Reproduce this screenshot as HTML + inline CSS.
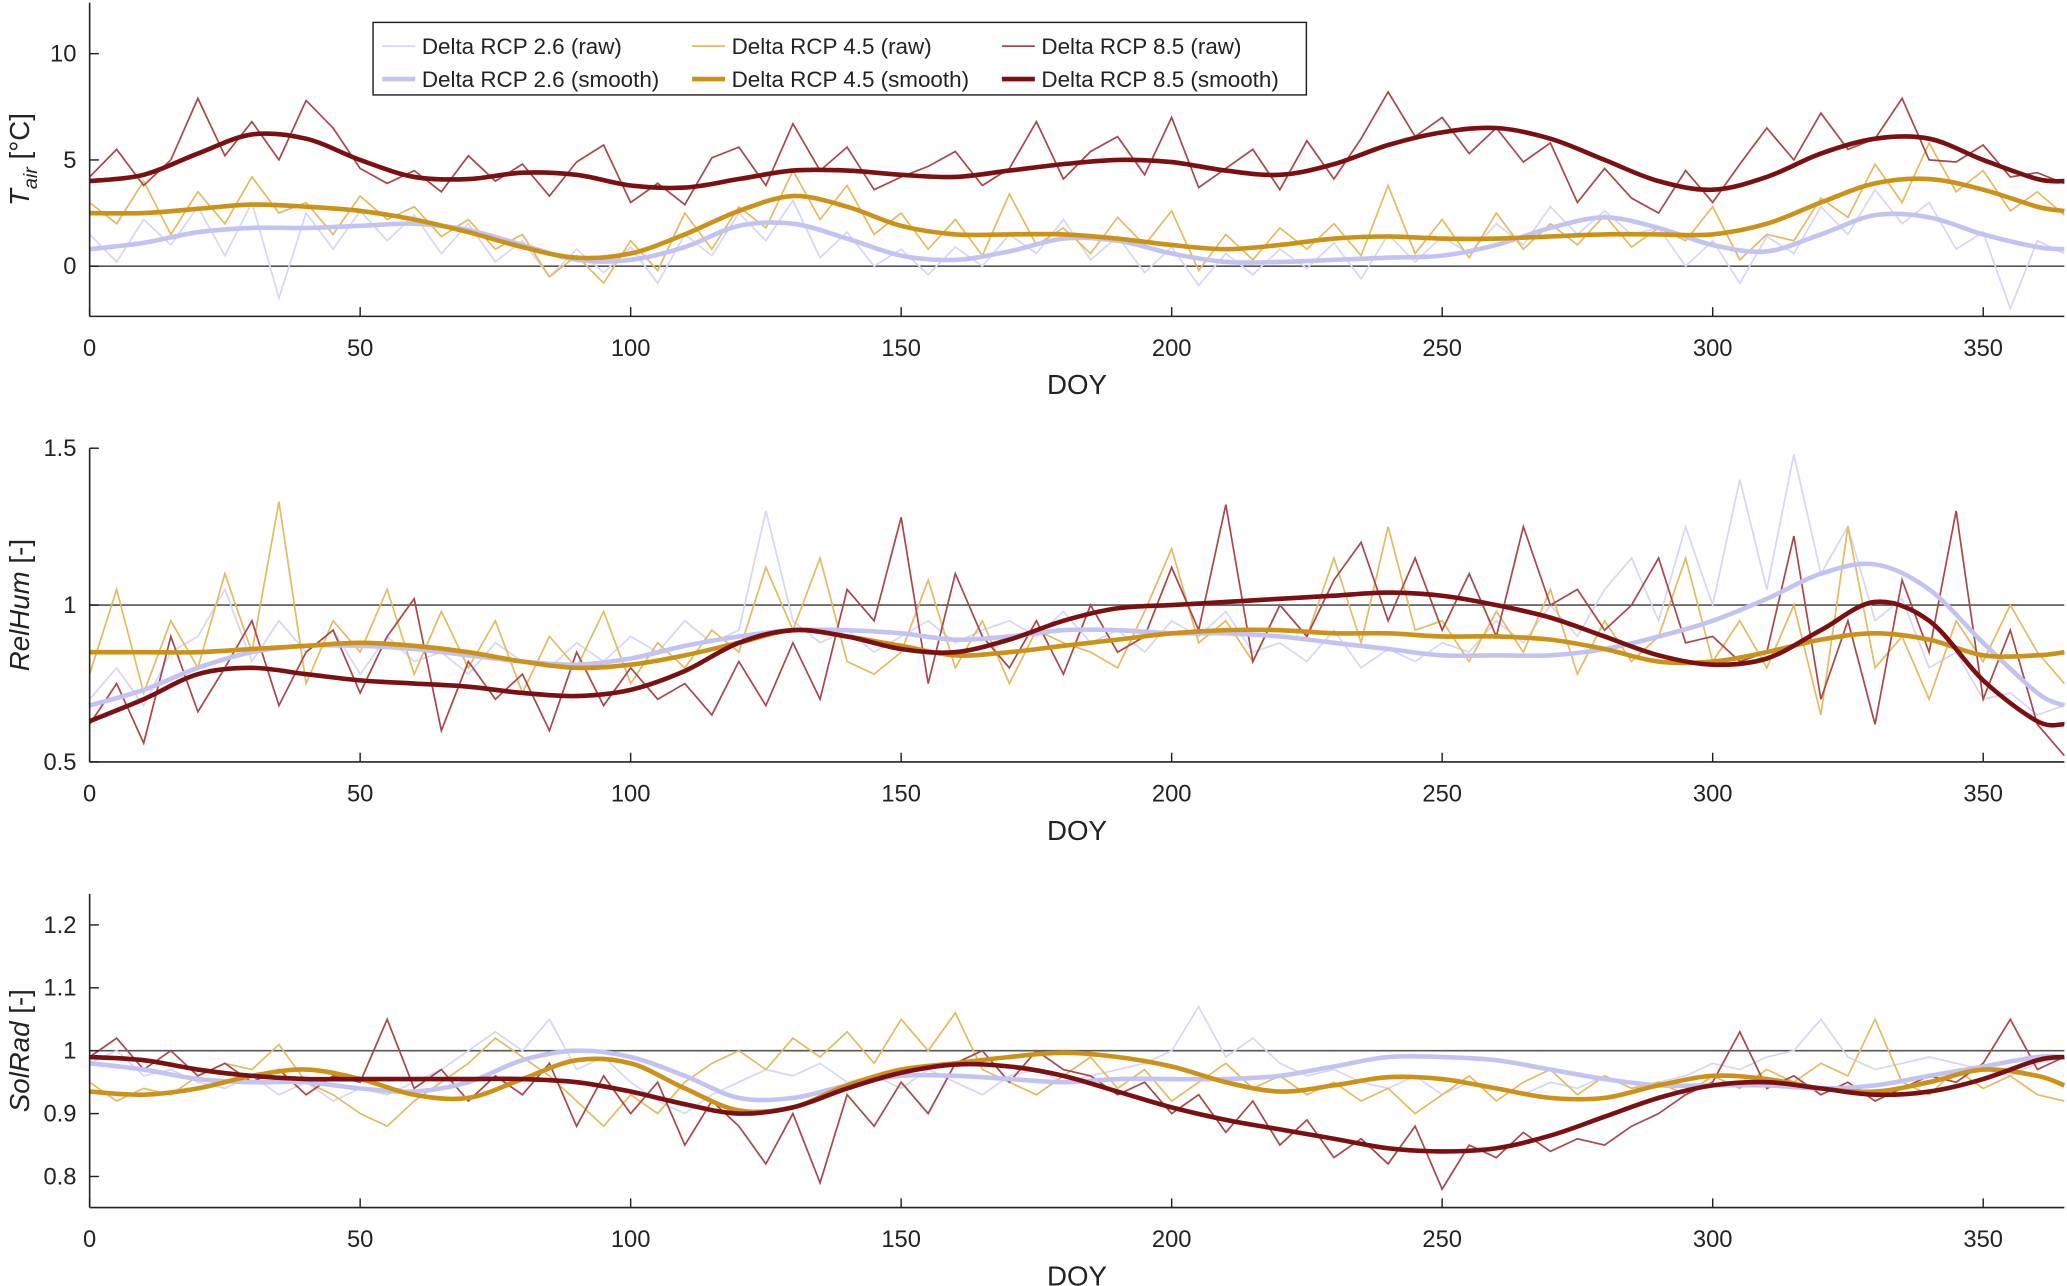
<!DOCTYPE html>
<html><head><meta charset="utf-8">
<style>
body{margin:0;background:#fff;}
svg{display:block;font-family:"Liberation Sans",Arial,sans-serif;}
</style></head>
<body>
<svg id="chart" width="2067" height="1286" viewBox="0 0 1568 975.5" preserveAspectRatio="none" xmlns="http://www.w3.org/2000/svg"></svg>
<script>
// ---------- data ----------
const smoothDoy=[0,10,20,30,40,50,60,70,80,90,100,110,120,130,140,150,160,170,180,190,200,210,220,230,240,250,260,270,280,290,300,310,320,330,340,350,360,365];
const xTicks=[0,50,100,150,200,250,300,350];

const tair85s=[4.0,4.3,5.3,6.2,6.0,5.0,4.2,4.1,4.4,4.3,3.8,3.7,4.1,4.5,4.5,4.3,4.2,4.5,4.8,5.0,4.9,4.5,4.3,4.8,5.7,6.3,6.5,6.0,5.0,4.0,3.6,4.2,5.3,6.0,6.0,5.0,4.1,4.0];
const tair45s=[2.5,2.5,2.7,2.9,2.8,2.6,2.2,1.6,0.9,0.4,0.6,1.5,2.6,3.3,2.8,1.9,1.5,1.5,1.5,1.3,1.0,0.8,1.0,1.3,1.4,1.3,1.3,1.4,1.5,1.5,1.5,2.0,3.0,3.9,4.1,3.6,2.8,2.6];
const tair26s=[0.8,1.1,1.6,1.8,1.8,1.9,2.0,1.7,1.0,0.3,0.3,0.9,1.9,2.0,1.3,0.5,0.3,0.7,1.3,1.2,0.6,0.2,0.2,0.3,0.4,0.5,1.0,1.8,2.3,1.8,1.0,0.7,1.5,2.4,2.3,1.5,0.9,0.8];
const tair85r=[4.2,5.5,3.8,5.0,7.9,5.2,6.8,5.0,7.8,6.5,4.6,3.9,4.5,3.5,5.2,4.0,4.8,3.3,4.9,5.7,3.0,3.9,2.9,5.1,5.6,3.8,6.7,4.5,5.6,3.6,4.2,4.7,5.4,3.8,4.6,6.8,4.1,5.4,6.1,4.3,7.0,3.7,4.6,5.5,3.6,5.9,4.1,6.0,8.2,6.1,7.0,5.3,6.5,4.9,5.8,3.0,4.6,3.2,2.5,4.5,3.0,4.8,6.5,5.0,7.2,5.5,6.0,7.9,5.0,4.9,5.7,4.2,4.4,3.9];
const tair45r=[3.0,2.0,4.0,1.5,3.5,2.0,4.2,2.5,3.0,1.5,3.3,2.2,2.8,1.4,2.2,0.8,1.5,-0.5,0.5,-0.8,1.2,-0.2,2.5,0.8,2.8,1.8,4.5,2.2,3.8,1.5,2.5,0.8,2.2,0.5,3.4,1.0,1.8,0.6,2.3,1.0,2.6,-0.2,1.5,0.3,1.8,0.8,2.0,0.5,3.8,0.6,2.2,0.4,2.5,0.8,2.0,1.0,2.4,0.9,1.8,1.2,2.8,0.3,1.5,1.2,3.2,2.3,4.8,3.0,5.8,3.5,4.5,2.6,3.5,2.4];
const tair26r=[1.5,0.2,2.2,1.0,2.8,0.5,3.0,-1.5,2.5,0.8,2.6,1.2,2.4,0.6,2.0,0.2,1.2,-0.5,0.8,-0.3,0.9,-0.8,1.5,0.5,2.5,1.2,3.1,0.4,1.6,0.0,0.8,-0.4,0.9,0.0,1.5,0.6,2.2,0.3,1.4,-0.3,0.9,-0.9,0.6,-0.4,0.8,-0.1,1.1,-0.6,1.5,0.2,1.4,0.6,2.0,1.0,2.8,1.5,2.6,1.5,1.8,0.0,1.2,-0.8,1.4,0.6,2.8,1.5,3.6,2.0,3.0,0.8,1.6,-2.0,1.2,0.6];

const rh85s=[0.63,0.70,0.78,0.80,0.78,0.76,0.75,0.74,0.72,0.71,0.73,0.79,0.88,0.92,0.90,0.86,0.85,0.89,0.95,0.99,1.00,1.01,1.02,1.03,1.04,1.03,1.00,0.96,0.90,0.84,0.81,0.83,0.92,1.01,0.95,0.76,0.63,0.62];
const rh45s=[0.85,0.85,0.85,0.86,0.87,0.88,0.87,0.85,0.82,0.80,0.81,0.84,0.88,0.92,0.90,0.87,0.84,0.85,0.87,0.89,0.91,0.92,0.92,0.91,0.91,0.90,0.90,0.89,0.86,0.82,0.82,0.85,0.89,0.91,0.89,0.84,0.84,0.85];
const rh26s=[0.68,0.73,0.80,0.85,0.87,0.87,0.86,0.84,0.82,0.81,0.83,0.87,0.90,0.92,0.92,0.91,0.89,0.90,0.92,0.92,0.91,0.91,0.90,0.88,0.86,0.84,0.84,0.84,0.86,0.90,0.95,1.02,1.10,1.13,1.05,0.88,0.72,0.68];
const rh85r=[0.62,0.75,0.56,0.9,0.66,0.8,0.95,0.68,0.85,0.92,0.72,0.9,1.02,0.6,0.82,0.7,0.78,0.6,0.85,0.68,0.8,0.7,0.75,0.65,0.82,0.68,0.88,0.7,1.05,0.95,1.28,0.75,1.1,0.9,0.8,0.95,0.78,1.0,0.85,0.9,1.12,0.92,1.32,0.82,1.0,0.9,1.08,1.2,0.95,1.15,0.92,1.1,0.9,1.25,1.0,1.05,0.92,1.0,1.15,0.88,0.9,0.82,0.85,1.22,0.7,0.95,0.62,1.08,0.85,1.3,0.7,0.92,0.62,0.52];
const rh45r=[0.78,1.05,0.72,0.95,0.8,1.1,0.85,1.33,0.75,0.95,0.85,1.05,0.78,0.98,0.8,0.95,0.72,0.9,0.8,0.98,0.75,0.88,0.8,0.92,0.85,1.12,0.92,1.15,0.82,0.78,0.85,1.08,0.8,0.95,0.75,0.92,0.88,0.85,0.8,0.98,1.18,0.88,0.95,0.82,1.0,0.9,1.15,0.88,1.25,0.92,0.95,0.82,0.98,0.85,1.05,0.78,0.95,0.82,0.9,1.15,0.82,0.95,0.8,1.0,0.65,1.25,0.8,0.9,0.7,0.95,0.82,1.0,0.85,0.75];
const rh26r=[0.7,0.8,0.68,0.85,0.9,1.05,0.82,0.95,0.85,0.92,0.78,0.9,0.82,0.85,0.78,0.88,0.82,0.8,0.88,0.82,0.9,0.85,0.95,0.88,0.92,1.3,0.95,0.88,0.92,0.85,0.9,0.95,0.88,0.92,0.95,0.9,0.98,0.88,0.92,0.85,0.95,0.9,0.98,0.85,0.88,0.82,0.92,0.8,0.86,0.82,0.88,0.85,0.95,0.88,1.0,0.9,1.05,1.15,0.95,1.25,1.0,1.4,1.05,1.48,1.1,1.25,0.95,1.02,0.8,0.85,0.7,0.72,0.65,0.68];

const sr85s=[0.99,0.985,0.97,0.96,0.955,0.955,0.955,0.955,0.955,0.95,0.935,0.915,0.90,0.91,0.94,0.965,0.978,0.975,0.96,0.935,0.91,0.89,0.875,0.86,0.845,0.84,0.845,0.865,0.895,0.925,0.945,0.95,0.94,0.93,0.935,0.955,0.985,0.99];
const sr45s=[0.935,0.93,0.94,0.96,0.97,0.955,0.93,0.925,0.955,0.985,0.98,0.94,0.905,0.91,0.945,0.97,0.98,0.99,0.997,0.99,0.975,0.95,0.935,0.945,0.958,0.955,0.94,0.925,0.925,0.945,0.96,0.955,0.94,0.935,0.95,0.97,0.96,0.945];
const sr26s=[0.98,0.97,0.955,0.95,0.95,0.94,0.935,0.95,0.985,1.0,0.99,0.96,0.925,0.925,0.945,0.96,0.96,0.955,0.95,0.955,0.955,0.955,0.96,0.975,0.99,0.99,0.985,0.97,0.955,0.945,0.945,0.945,0.94,0.945,0.96,0.975,0.99,0.99];
const sr85r=[0.99,1.02,0.97,1.0,0.96,0.98,0.95,0.97,0.93,0.96,0.95,1.05,0.94,0.97,0.92,0.96,0.93,0.98,0.88,0.96,0.9,0.95,0.85,0.92,0.88,0.82,0.9,0.79,0.93,0.88,0.95,0.9,0.98,1.0,0.95,1.0,0.97,0.96,0.93,0.95,0.9,0.93,0.87,0.92,0.85,0.89,0.83,0.86,0.82,0.88,0.78,0.85,0.83,0.87,0.84,0.86,0.85,0.88,0.9,0.93,0.95,1.03,0.94,0.96,0.93,0.95,0.92,0.94,0.96,0.95,0.98,1.05,0.97,0.99];
const sr45r=[0.95,0.92,0.94,0.93,0.96,0.98,0.97,1.01,0.95,0.93,0.9,0.88,0.92,0.95,0.98,1.02,0.99,0.96,0.92,0.88,0.93,0.9,0.95,0.98,1.0,0.97,1.02,0.99,1.03,0.98,1.05,1.0,1.06,0.97,0.95,0.93,0.96,0.99,0.94,0.97,0.92,0.95,0.98,0.94,0.96,0.93,0.95,0.92,0.94,0.9,0.93,0.96,0.92,0.95,0.97,0.93,0.96,0.94,0.95,0.93,0.96,0.94,0.97,0.95,0.98,0.96,1.05,0.95,0.93,0.97,0.94,0.96,0.93,0.92];
const sr26r=[0.98,1.0,0.96,0.97,0.95,0.94,0.96,0.93,0.95,0.92,0.94,0.93,0.95,0.97,1.0,1.03,1.0,1.05,0.97,0.99,0.95,0.92,0.9,0.93,0.95,0.97,0.96,0.98,0.95,0.96,0.94,0.97,0.95,0.93,0.96,0.97,0.95,0.96,0.97,0.98,1.0,1.07,0.99,1.02,0.98,0.96,0.97,0.95,0.94,0.96,0.93,0.95,0.94,0.93,0.95,0.94,0.96,0.94,0.95,0.96,0.98,0.97,0.99,1.0,1.05,0.99,0.97,0.98,0.99,0.98,0.97,0.96,0.98,0.99];

const tairTicks=[0,5,10];
const rhTicks=[0.5,1,1.5];
const srTicks=[0.8,0.9,1,1.1,1.2];
const tickLabelsSr=["0.8","0.9","1","1.1","1.2"];

// ---------- drawing ----------
const svg=document.getElementById('chart');
const NS='http://www.w3.org/2000/svg';
const X0=68,X1=1566;
const xs=d=>X0+d*(X1-X0)/365;
const COL={c26r:'#d6d6f7',c26s:'#c3c3f3',c45r:'#e2bb62',c45s:'#cc9218',c85r:'#a8484b',c85s:'#7b1013'};

function mk(tag,attrs,parent){const e=document.createElementNS(NS,tag);for(const k in attrs)e.setAttribute(k,attrs[k]);(parent||svg).appendChild(e);return e;}
function smoothPath(pts){let d='M'+pts[0][0].toFixed(1)+','+pts[0][1].toFixed(1);
 for(let i=0;i<pts.length-1;i++){const p0=pts[i-1]||pts[i],p1=pts[i],p2=pts[i+1],p3=pts[i+2]||p2;
  const c1=[p1[0]+(p2[0]-p0[0])/6,p1[1]+(p2[1]-p0[1])/6],c2=[p2[0]-(p3[0]-p1[0])/6,p2[1]-(p3[1]-p1[1])/6];
  d+=` C${c1[0].toFixed(1)},${c1[1].toFixed(1)} ${c2[0].toFixed(1)},${c2[1].toFixed(1)} ${p2[0].toFixed(1)},${p2[1].toFixed(1)}`;}
 return d;}

function panel(cfg){
 const g=mk('g',{});
 
 
 const ys=v=>cfg.yBot-(v-cfg.vMin)*(cfg.yBot-cfg.yTop)/(cfg.vMax-cfg.vMin);
 const rl=mk('line',{x1:X0,x2:X1,y1:ys(cfg.ref),y2:ys(cfg.ref),stroke:'#555','stroke-width':1.2},g);
 
 
 cfg.raw.forEach((s,k)=>{const n=s.v.length;const step=365/(n-1);
  const d=s.v.map((v,i)=>(i?'L':'M')+xs(i*step).toFixed(1)+','+ys(v).toFixed(1)).join(' ');
  const p=mk('path',{d:d,fill:'none',stroke:s.c,'stroke-width':1.3},g);
  
  
 });
 cfg.sm.forEach(s=>{const pts=s.v.map((v,i)=>[xs(smoothDoy[i]),ys(v)]);
  const p=mk('path',{d:smoothPath(pts),fill:'none',stroke:s.c,'stroke-width':s.w||3.5},g);
  
  
 });
 const ya=mk('line',{x1:X0,x2:X0,y1:cfg.yTop,y2:cfg.yBot,stroke:'#222','stroke-width':1.2},g);
 
 
 const xa=mk('line',{x1:X0,x2:X1,y1:cfg.yBot,y2:cfg.yBot,stroke:'#222','stroke-width':1.2},g);
 
 
 xTicks.forEach(t=>{mk('line',{x1:xs(t),x2:xs(t),y1:cfg.yBot,y2:cfg.yBot-7,stroke:'#222','stroke-width':1.1},g);
  const tx=mk('text',{x:xs(t),y:cfg.yBot+30,'text-anchor':'middle','font-size':18,fill:'#222'},g);tx.textContent=t;
  
  });
 cfg.ticks.forEach((t,i)=>{mk('line',{x1:X0,x2:X0+7,y1:ys(t),y2:ys(t),stroke:'#222','stroke-width':1.1},g);
  const tx=mk('text',{x:X0-10,y:ys(t)+6,'text-anchor':'end','font-size':18,fill:'#222'},g);tx.textContent=cfg.labels?cfg.labels[i]:t;
  
  });
 const xt=mk('text',{x:(X0+X1)/2,y:cfg.yBot+59,'text-anchor':'middle','font-size':21,fill:'#222'},g);xt.textContent='DOY';
 
 
 const yt=mk('text',{transform:`translate(22,${(cfg.yTop+cfg.yBot)/2}) rotate(-90)`,'text-anchor':'middle','font-size':21,fill:'#222'},g);
 yt.innerHTML=cfg.ylab;
 
 
}

panel({name:'tair-panel',yTop:2,yBot:240,vMin:-2.36,vMax:12.4,ref:0,ticks:tairTicks,
 ylab:'<tspan font-style="italic">T</tspan><tspan font-style="italic" font-size="15" dy="6">air</tspan><tspan dy="-6"> [°C]</tspan>',
 raw:[{v:tair26r,c:COL.c26r,n:'tair-rcp26-raw'},{v:tair45r,c:COL.c45r,n:'tair-rcp45-raw'},{v:tair85r,c:COL.c85r,n:'tair-rcp85-raw'}],
 sm:[{v:tair26s,c:COL.c26s,n:'tair-rcp26-smooth'},{v:tair45s,c:COL.c45s,n:'tair-rcp45-smooth'},{v:tair85s,c:COL.c85s,n:'tair-rcp85-smooth'}]});
panel({name:'relhum-panel',yTop:340,yBot:578,vMin:0.5,vMax:1.5,ref:1,ticks:rhTicks,
 ylab:'<tspan font-style="italic">RelHum</tspan> [-]',
 raw:[{v:rh26r,c:COL.c26r,n:'relhum-rcp26-raw'},{v:rh45r,c:COL.c45r,n:'relhum-rcp45-raw'},{v:rh85r,c:COL.c85r,n:'relhum-rcp85-raw'}],
 sm:[{v:rh26s,c:COL.c26s,n:'relhum-rcp26-smooth'},{v:rh45s,c:COL.c45s,n:'relhum-rcp45-smooth'},{v:rh85s,c:COL.c85s,n:'relhum-rcp85-smooth'}]});
panel({name:'solrad-panel',yTop:678,yBot:916,vMin:0.7506,vMax:1.2495,ref:1,ticks:srTicks,labels:tickLabelsSr,
 ylab:'<tspan font-style="italic">SolRad</tspan> [-]',
 raw:[{v:sr26r,c:COL.c26r,n:'solrad-rcp26-raw'},{v:sr45r,c:COL.c45r,n:'solrad-rcp45-raw'},{v:sr85r,c:COL.c85r,n:'solrad-rcp85-raw'}],
 sm:[{v:sr26s,c:COL.c26s,n:'solrad-rcp26-smooth'},{v:sr45s,c:COL.c45s,n:'solrad-rcp45-smooth'},{v:sr85s,c:COL.c85s,n:'solrad-rcp85-smooth'}]});

// legend
const lg=mk('g',{});


mk('rect',{x:283,y:17,width:708,height:55,fill:'#fff',stroke:'#222','stroke-width':1.1},lg);
const legendItems=[
 ['Delta RCP 2.6 (raw)',COL.c26r,1.3,290,35],['Delta RCP 4.5 (raw)',COL.c45r,1.3,525,35],['Delta RCP 8.5 (raw)',COL.c85r,1.3,760,35],
 ['Delta RCP 2.6 (smooth)',COL.c26s,3.5,290,60],['Delta RCP 4.5 (smooth)',COL.c45s,3.5,525,60],['Delta RCP 8.5 (smooth)',COL.c85s,3.5,760,60]];
legendItems.forEach(it=>{
 const e=mk('g',{},lg);
 
 
 mk('line',{x1:it[3],x2:it[3]+25,y1:it[4],y2:it[4],stroke:it[1],'stroke-width':it[2]},e);
 const t=mk('text',{x:it[3]+30,y:it[4]+6,'font-size':17,fill:'#222'},e);t.textContent=it[0];
});
</script>
</body></html>
